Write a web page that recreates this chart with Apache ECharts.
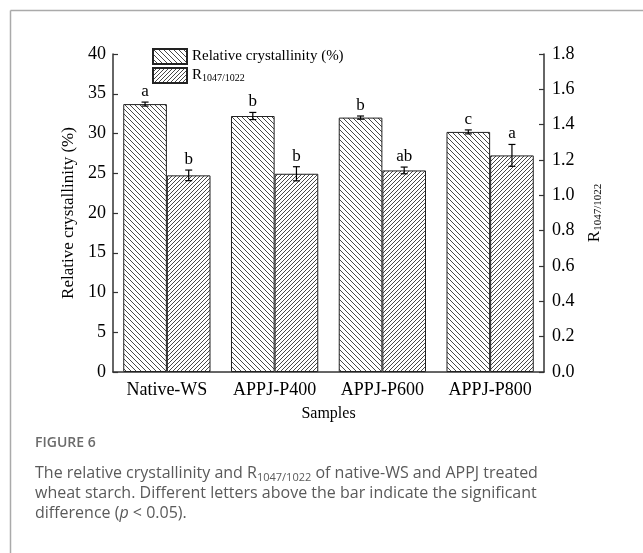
<!DOCTYPE html>
<html>
<head>
<meta charset="utf-8">
<script src="https://cdn.jsdelivr.net/npm/echarts@6/dist/echarts.min.js"></script>
<style>
html,body{margin:0;padding:0;background:#fff;}
#c{width:643px;height:553px;}
</style>
</head>
<body>
<div id="c"></div>
<script>
const categories = ['Native-WS', 'APPJ-P400', 'APPJ-P600', 'APPJ-P800'];
const crystallinity = [33.7, 32.2, 32.0, 30.2];
const crystallinityErr = [0.25, 0.45, 0.2, 0.25];
const crystallinityLetters = ['a', 'b', 'b', 'c'];
const ratio = [1.113, 1.122, 1.141, 1.226];
const ratioErr = [0.03, 0.04, 0.019, 0.062];
const ratioLetters = ['b', 'b', 'ab', 'a'];
const leftTicks = [0, 5, 10, 15, 20, 25, 30, 35, 40];
const rightTicks = ['0.0', '0.2', '0.4', '0.6', '0.8', '1.0', '1.2', '1.4', '1.6', '1.8'];

const SERIF = '"Liberation Serif", "Times New Roman", serif';

function hatch(size, back) {
  const c = document.createElement('canvas');
  c.width = size; c.height = size;
  const g = c.getContext('2d');
  g.fillStyle = '#fff';
  g.fillRect(0, 0, size, size);
  g.strokeStyle = '#333';
  g.lineWidth = 0.9;
  g.beginPath();
  for (let k = -1; k <= 1; k++) {
    if (back) { g.moveTo(k * size, 0); g.lineTo(k * size + size, size); }
    else { g.moveTo(k * size, size); g.lineTo(k * size + size, 0); }
  }
  g.stroke();
  return { image: c, repeat: 'repeat' };
}

const patRC = hatch(5, true);
const patR = hatch(4, false);

function errSeries(name, vals, errs, letters, side, yIdx) {
  return {
    type: 'custom',
    name: name + ' err',
    yAxisIndex: yIdx,
    z: 10,
    silent: true,
    data: vals.map((v, i) => [i, v, errs[i]]),
    renderItem: function (params, api) {
      const i = api.value(0), v = api.value(1), e = api.value(2);
      const band = api.size([1, 0])[0];
      const off = side * band * 0.81 / 4;
      const top = api.coord([i, v + e]);
      const bot = api.coord([i, v - e]);
      const x = top[0] + off;
      const cw = 3.5;
      const ls = { stroke: '#000', lineWidth: 1.2 };
      return {
        type: 'group',
        children: [
          { type: 'line', shape: { x1: x, y1: top[1], x2: x, y2: bot[1] }, style: ls },
          { type: 'line', shape: { x1: x - cw, y1: top[1], x2: x + cw, y2: top[1] }, style: ls },
          { type: 'line', shape: { x1: x - cw, y1: bot[1], x2: x + cw, y2: bot[1] }, style: ls },
          { type: 'text', x: x, y: top[1] - 2, style: { text: letters[params.dataIndex], align: 'center', verticalAlign: 'bottom', fontFamily: SERIF, fontSize: 17, fill: '#000' } }
        ]
      };
    }
  };
}

const chart = echarts.init(document.getElementById('c'), null, { renderer: 'canvas' });

const option = {
  backgroundColor: '#fff',
  animation: false,
  grid: { left: 113, right: 99, top: 54, bottom: 181, containLabel: false },
  legend: {
    orient: 'vertical',
    left: 152, top: 48, padding: 0,
    itemWidth: 34, itemHeight: 15, itemGap: 2,
    icon: 'rect',
    data: ['Relative crystallinity (%)', 'R1047/1022'],
    formatter: function (n) {
      if (n === 'R1047/1022') return '{m|R}{s|1047/1022}';
      return '{m|' + n + '}';
    },
    textStyle: {
      fontFamily: SERIF, fontSize: 15, color: '#000',
      rich: {
        m: { fontFamily: SERIF, fontSize: 15, color: '#000', lineHeight: 16 },
        s: { fontFamily: SERIF, fontSize: 10, color: '#000', lineHeight: 16, verticalAlign: 'bottom', padding: [6, 0, 0, 0] }
      }
    }
  },
  xAxis: {
    type: 'category',
    data: categories,
    name: 'Samples',
    nameLocation: 'middle',
    nameGap: 34,
    nameTextStyle: { fontFamily: SERIF, fontSize: 16, color: '#000' },
    axisLine: { lineStyle: { color: '#333', width: 1.5 } },
    axisTick: { show: false },
    axisLabel: { interval: 0, fontFamily: SERIF, fontSize: 18, color: '#000', margin: 9 }
  },
  yAxis: [
    {
      type: 'value', min: 0, max: 40, interval: 5,
      name: 'Relative crystallinity (%)',
      nameLocation: 'middle', nameRotate: 90, nameGap: 33,
      nameTextStyle: { fontFamily: SERIF, fontSize: 17, color: '#000' },
      axisLine: { show: true, lineStyle: { color: '#333', width: 1.5 } },
      axisTick: { show: true, inside: true, length: 5, lineStyle: { color: '#333', width: 1.2 } },
      axisLabel: { fontFamily: SERIF, fontSize: 18, color: '#000', margin: 7,
        formatter: function (v) { return leftTicks.indexOf(v) >= 0 ? String(v) : ''; } },
      splitLine: { show: false }
    },
    {
      type: 'value', min: 0, max: 1.8, interval: 0.2, position: 'right',
      name: '{m|R}{s|1047/1022}',
      nameLocation: 'middle', nameRotate: 90, nameGap: 41,
      nameTextStyle: {
        fontFamily: SERIF, fontSize: 17, color: '#000',
        rich: {
          m: { fontFamily: SERIF, fontSize: 17, color: '#000', lineHeight: 18 },
          s: { fontFamily: SERIF, fontSize: 11, color: '#000', lineHeight: 18, verticalAlign: 'bottom', padding: [7, 0, 0, 0] }
        }
      },
      axisLine: { show: true, lineStyle: { color: '#333', width: 1.5 } },
      axisTick: { show: true, inside: true, length: 5, lineStyle: { color: '#333', width: 1.2 } },
      axisLabel: { fontFamily: SERIF, fontSize: 18, color: '#000', margin: 8,
        formatter: function (v) { return rightTicks[Math.round(v / 0.2)] || ''; } },
      splitLine: { show: false }
    }
  ],
  series: [
    {
      name: 'Relative crystallinity (%)', type: 'bar', yAxisIndex: 0,
      data: crystallinity, barGap: '0%', barCategoryGap: '19%',
      itemStyle: { color: patRC, borderColor: '#222', borderWidth: 1 }
    },
    {
      name: 'R1047/1022', type: 'bar', yAxisIndex: 1,
      data: ratio, barGap: '0%', barCategoryGap: '19%',
      itemStyle: { color: patR, borderColor: '#222', borderWidth: 1 }
    },
    errSeries('rc', crystallinity, crystallinityErr, crystallinityLetters, -1, 0),
    errSeries('r', ratio, ratioErr, ratioLetters, 1, 1)
  ],
  graphic: [
    { type: 'line', shape: { x1: 10.5, y1: 10.5, x2: 643, y2: 10.5 }, style: { stroke: '#aaa', lineWidth: 1.5 } },
    { type: 'line', shape: { x1: 10.5, y1: 10.5, x2: 10.5, y2: 553 }, style: { stroke: '#aaa', lineWidth: 1.5 } },
    { type: 'text', left: 35, top: 436, style: { text: 'FIGURE 6', fontFamily: '"Open Sans", sans-serif', fontSize: 14, fontWeight: 600, fill: '#6b6b6b' } },
    { type: 'text', left: 35, top: 465, style: {
        text: '{t|The relative crystallinity and R}{s|1047/1022}{t| of native-WS and APPJ treated}\n{t|wheat starch. Different letters above the bar indicate the significant}\n{t|difference (}{i|p}{t| < 0.05).}',
        rich: {
          t: { fontFamily: '"Open Sans", sans-serif', fontSize: 16, fill: '#5a5a5a', lineHeight: 20 },
          i: { fontFamily: '"Open Sans", sans-serif', fontSize: 16, fontStyle: 'italic', fill: '#5a5a5a', lineHeight: 20 },
          s: { fontFamily: '"Open Sans", sans-serif', fontSize: 11, fill: '#5a5a5a', lineHeight: 20, verticalAlign: 'bottom', padding: [6, 0, 0, 0] }
        }
      } }
  ]
};
chart.setOption(option);
</script>
</body>
</html>
